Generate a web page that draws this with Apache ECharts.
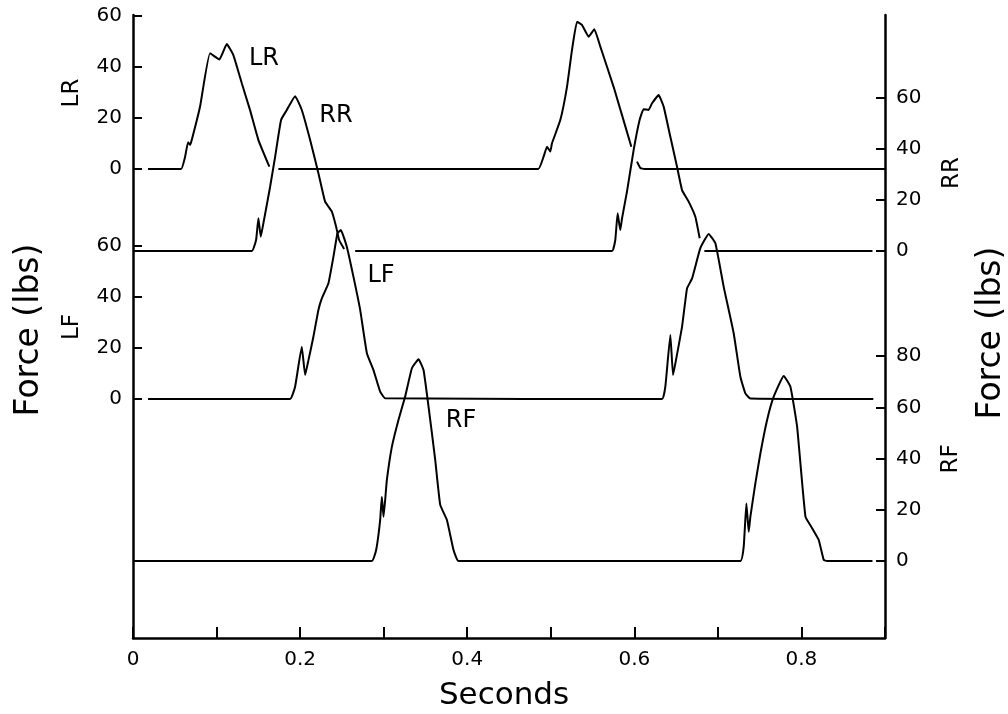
<!DOCTYPE html>
<html>
<head>
<meta charset="utf-8">
<script src="https://cdn.jsdelivr.net/npm/echarts@6/dist/echarts.min.js"></script>
<style>
  html, body { margin: 0; padding: 0; background: #fff; }
  #main { width: 1008px; height: 714px; }
</style>
</head>
<body>
<div id="main"></div>
<script>
// time in seconds, force in lbs (null = pen gap in the original trace)
var lrTime  = [0.018, 0.0575, 0.0623, 0.0659, 0.0683, 0.0703, 0.0802, 0.0922, 0.1034, 0.1122, 0.1201, 0.1302, 0.1401, 0.1501, 0.1632, 0.168,
               0.174, 0.485, 0.4914, 0.4955, 0.4994, 0.5014, 0.5114, 0.5194, 0.5254, 0.5314, 0.5373, 0.5453, 0.5521, 0.5593, 0.5752, 0.5964, 0.600,
               0.6032, 0.6072, 0.612, 0.9];
var lrForce = [0, 0, 4.7, 10.5, 9.4, 11.3, 24.3, 45.2, 42.8, 48.8, 44.5, 33.5, 23, 11.3, 0.9, null,
               0, 0, 4.8, 8.7, 6.8, 10, 19.1, 32.1, 46.5, 57.5, 56.3, 51.7, 54.6, 47.8, 32.1, 8.7, null,
               2.9, 0.4, 0, 0];

var rrTime  = [0, 0.1422, 0.1473, 0.1501, 0.1529, 0.1553, 0.1641, 0.1701, 0.1772, 0.1841, 0.194, 0.202, 0.212, 0.2219, 0.2299, 0.238, 0.2431, 0.2467, 0.2527, 0.259,
               0.2659, 0.5733, 0.5772, 0.58, 0.5832, 0.5853, 0.5912, 0.5992, 0.6063, 0.6111, 0.6171, 0.6212, 0.6291, 0.6351, 0.6431, 0.6511, 0.6571, 0.665, 0.673, 0.6782, 0.681,
               0.6838, 0.885];
var rrForce = [0, 0, 4.3, 12.8, 5.6, 9.5, 25.1, 36.8, 51.2, 55.1, 60.5, 55.1, 43.4, 30.4, 19.3, 15.4, 9.5, 4.3, 0.8, null,
               0, 0, 4.3, 14.7, 8.2, 12.8, 23.2, 39.5, 51.2, 55.4, 55.1, 57.7, 60.9, 56.4, 44.6, 32.9, 23.8, 19.3, 13.4, 5, null,
               0, 0];

var lfTime  = [0.018, 0.188, 0.194, 0.202, 0.206, 0.21, 0.2159, 0.2219, 0.226, 0.2339, 0.2399, 0.2447, 0.2487, 0.2559, 0.2638, 0.2719, 0.2799, 0.2878, 0.2958, 0.3018,
               0.6332, 0.6371, 0.6431, 0.6463, 0.6491, 0.6571, 0.6631, 0.6691, 0.679, 0.689, 0.697, 0.7069, 0.7189, 0.7269, 0.7329, 0.7389, 0.886];
var lfForce = [0, 0, 4.8, 20.4, 9.4, 15.2, 24.3, 34.8, 39.3, 45.2, 55.6, 64.7, 66, 59.5, 47.8, 34.8, 17.9, 11.3, 2.9, 0.3,
               0, 4.8, 25, 9.4, 13.9, 28.2, 43.2, 47.1, 58.9, 64.5, 60.8, 43.9, 25.7, 8.7, 2.2, 0.2, 0];

var rfTime  = [0, 0.2859, 0.291, 0.2958, 0.2978, 0.2998, 0.3018, 0.3038, 0.3098, 0.3177, 0.3257, 0.3338, 0.3417, 0.3477, 0.3537, 0.3617, 0.3677, 0.3757, 0.3836, 0.3896,
               0.7269, 0.7309, 0.7341, 0.7369, 0.7389, 0.7449, 0.7509, 0.7589, 0.7668, 0.7788, 0.7868, 0.7948, 0.8048, 0.8128, 0.8207, 0.8267, 0.8307, 0.885];
var rfForce = [0, 0, 4.3, 16, 25.1, 17.3, 23.8, 31.6, 44.6, 55.1, 64.2, 75.3, 78.8, 74.6, 60.3, 39.5, 21.9, 16, 4.3, 0,
               0, 5.6, 22.5, 11.4, 17.3, 30.4, 42.1, 55.1, 64.2, 72.3, 68.1, 52.5, 17.3, 12.8, 8.2, 0.4, 0, 0];

var leftTicks = [0, 20, 40, 60];
var rrTicks = [0, 20, 40, 60];
var rfTicks = [0, 20, 40, 60, 80];

function pairs(t, f) {
  return t.map(function (x, i) { return [x, f[i] === null ? '-' : f[i]]; });
}

var FONT = '"DejaVu Sans", Arial, sans-serif';

function yAxis(pos, min, max, ticks, showLine) {
  return {
    type: 'value',
    position: pos,
    min: min,
    max: max,
    splitLine: { show: false },
    axisLine: { show: showLine, onZero: false, lineStyle: { color: '#000', width: 2.5 } },
    axisTick: { show: true, inside: true, length: 9, customValues: ticks, lineStyle: { color: '#000', width: 2 } },
    axisLabel: { show: true, customValues: ticks, margin: 11, color: '#000', fontSize: 20, fontFamily: FONT }
  };
}

function line(name, yIdx, t, f) {
  return {
    name: name,
    type: 'line',
    yAxisIndex: yIdx,
    data: pairs(t, f),
    showSymbol: false,
    smooth: 0.12,
    connectNulls: false,
    lineStyle: { color: '#000', width: 2 },
    silent: true
  };
}

function label(text, x, y, size, rot) {
  return {
    type: 'text', x: x, y: y, rotation: rot || 0,
    style: { text: text, font: size + 'px ' + FONT, fill: '#000', textAlign: 'center', textVerticalAlign: 'middle' }
  };
}

var chart = echarts.init(document.getElementById('main'));
chart.setOption({
  backgroundColor: '#fff',
  animation: false,
  grid: { left: 133, right: 123, top: 15, bottom: 76, containLabel: false, outerBoundsMode: 'none' },
  xAxis: {
    type: 'value', min: 0, max: 0.9, interval: 0.1,
    splitLine: { show: false },
    axisLine: { onZero: false, lineStyle: { color: '#000', width: 2.5 } },
    axisTick: { inside: true, length: 11, lineStyle: { color: '#000', width: 2 } },
    axisLabel: {
      margin: 12, color: '#000', fontSize: 20, fontFamily: FONT,
      formatter: function (v) { return Math.round(v * 10) % 2 === 0 && v < 0.85 ? String(+v.toFixed(1)) : ''; }
    }
  },
  yAxis: [
    yAxis('left', -183.2, 60.16, leftTicks, true),
    yAxis('right', -151.17, 92.19, rrTicks, true),
    yAxis('left', -93.36, 150, leftTicks, false),
    yAxis('right', -30.08, 213.28, rfTicks, false)
  ],
  series: [
    line('LR', 0, lrTime, lrForce),
    line('RR', 1, rrTime, rrForce),
    line('LF', 2, lfTime, lfForce),
    line('RF', 3, rfTime, rfForce)
  ],
  graphic: [
    label('LR', 264, 59, 24),
    label('RR', 336, 116, 24),
    label('LF', 381, 276, 24),
    label('RF', 461, 421, 24),
    label('LR', 72, 93, 23, Math.PI / 2),
    label('LF', 72, 327, 23, Math.PI / 2),
    label('RR', 952, 173, 23, Math.PI / 2),
    label('RF', 951, 459, 23, Math.PI / 2),
    label('Force (lbs)', 29, 330, 33, Math.PI / 2),
    label('Force (lbs)', 991, 333, 33, Math.PI / 2),
    label('Seconds', 504, 696, 31)
  ]
});
</script>
</body>
</html>
